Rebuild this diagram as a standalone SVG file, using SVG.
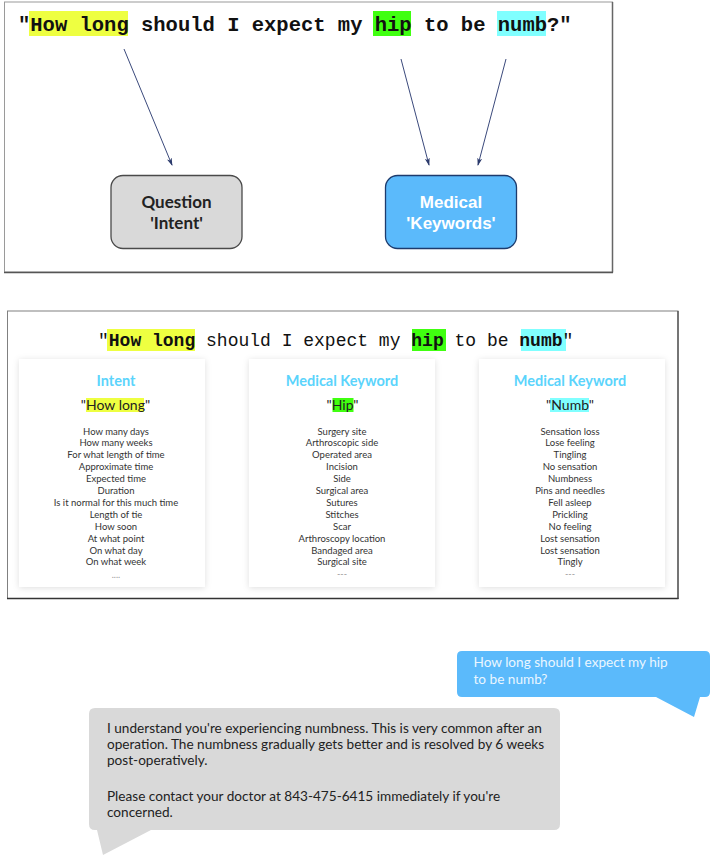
<svg xmlns="http://www.w3.org/2000/svg" width="714" height="859" viewBox="0 0 714 859">
<style>
.mono{font-family:"Liberation Mono","Courier New",monospace;fill:#111}
.box{font-family:Lato,"Liberation Sans",sans-serif;font-weight:bold;font-size:17px;text-anchor:middle}
.head{font-family:Lato,"Open Sans",sans-serif;font-weight:bold;font-size:14.5px;fill:#5bd4fc;text-anchor:middle}
.kw{font-family:Lato,"Open Sans",sans-serif;font-size:14px;fill:#222;text-anchor:middle}
.item{font-family:Lato,"Open Sans",sans-serif;font-size:9.5px;fill:#333;text-anchor:middle}
.dots{font-family:Lato,"Open Sans",sans-serif;font-size:9px;fill:#999;text-anchor:middle}
.chat{font-family:Lato,"Open Sans",sans-serif;font-size:13.6px}
.card{fill:#fff;filter:url(#sh)}
.conn{stroke:#3b4a7c;stroke-width:1;fill:none;marker-end:url(#ah)}
</style>
<defs>
<filter id="sh" x="-10%" y="-10%" width="120%" height="120%">
<feDropShadow dx="0" dy="1" stdDeviation="3" flood-color="#000" flood-opacity="0.13"/>
</filter>
<marker id="ah" markerWidth="8" markerHeight="6" refX="7" refY="3" orient="auto" markerUnits="userSpaceOnUse">
<path d="M0,0.5 L8,3 L0,5.5 L2,3 z" fill="#2b3a6c"/>
</marker>
</defs>
<rect width="714" height="859" fill="#fff"/>

<g id="panel1">
<rect x="4.5" y="2" width="608" height="270" fill="#fff" stroke="#9a9a9a" stroke-width="1"/>
<line x1="612.5" y1="2" x2="612.5" y2="272.5" stroke="#666" stroke-width="1.5"/>
<line x1="4" y1="272.5" x2="613" y2="272.5" stroke="#555" stroke-width="1.5"/>
<g id="question1">
<rect x="29" y="11" width="99" height="25" fill="#eeff41"/>
<rect x="373" y="11" width="38" height="25" fill="#40ff10"/>
<rect x="497" y="11" width="49" height="25" fill="#80ffff"/>
<text class="mono" x="18" y="30.5" font-size="20.5" font-weight="bold">"How long should I expect my hip to be numb?"</text>
</g>
<g id="intent">
<rect x="111" y="175.5" width="131" height="73" rx="12" fill="#d9d9d9" stroke="#4a4a4a" stroke-width="1.3"/>
<text class="box" x="176.5" y="208" fill="#222">Question</text>
<text class="box" x="176.5" y="229" fill="#222">'Intent'</text>
</g>
<g id="keywords">
<rect x="385.5" y="175.5" width="131" height="73" rx="12" fill="#5bbafb" stroke="#1d3b6d" stroke-width="1.3"/>
<text class="box" x="451" y="208" fill="#fff" style="font-family:'Liberation Sans',Arial,sans-serif">Medical</text>
<text class="box" x="451" y="229" fill="#fff" style="font-family:'Liberation Sans',Arial,sans-serif">'Keywords'</text>
</g>
<g id="connectors">
<line class="conn" x1="124" y1="49" x2="172" y2="165"/>
<line class="conn" x1="401" y1="59" x2="429" y2="165"/>
<line class="conn" x1="506" y1="59" x2="478" y2="165"/>
</g>
</g>

<g id="panel2">
<rect x="7.5" y="311" width="670.5" height="287.5" fill="#fff" stroke="#808080" stroke-width="1"/>
<line x1="7" y1="598.5" x2="678.5" y2="598.5" stroke="#333" stroke-width="1.5"/>
<line x1="678" y1="311" x2="678" y2="599" stroke="#444" stroke-width="1.2"/>
<g id="question2">
<rect x="107" y="329" width="88" height="22" fill="#eeff41"/>
<rect x="412" y="329" width="34" height="22" fill="#40ff10"/>
<rect x="521" y="329" width="45" height="22" fill="#80ffff"/>
<text class="mono" x="98" y="346" font-size="18">"<tspan font-weight="bold">How long</tspan> should I expect my <tspan font-weight="bold">hip</tspan> to be <tspan font-weight="bold">numb</tspan>"</text>
</g>
<g id="card-intent">
<rect class="card" x="19" y="359" width="186" height="228"/>
<text class="head" x="116" y="386">Intent</text>
<rect x="86" y="398" width="58" height="14" fill="#eeff41"/>
<text class="kw" x="115.5" y="409.5">"How long"</text>
<text class="item" x="116" y="434.5">How many days</text>
<text class="item" x="116" y="446.4">How many weeks</text>
<text class="item" x="116" y="458.3">For what length of time</text>
<text class="item" x="116" y="470.2">Approximate time</text>
<text class="item" x="116" y="482.1">Expected time</text>
<text class="item" x="116" y="494">Duration</text>
<text class="item" x="116" y="505.9">Is it normal for this much time</text>
<text class="item" x="116" y="517.8">Length of tie</text>
<text class="item" x="116" y="529.7">How soon</text>
<text class="item" x="116" y="541.6">At what point</text>
<text class="item" x="116" y="553.5">On what day</text>
<text class="item" x="116" y="565.4">On what week</text>
<text class="dots" x="116" y="577.5">....</text>
</g>
<g id="card-hip">
<rect class="card" x="249" y="359" width="186" height="228"/>
<text class="head" x="342" y="386">Medical Keyword</text>
<rect x="332.5" y="398" width="21" height="14" fill="#40ff10"/>
<text class="kw" x="342.5" y="409.5">"Hip"</text>
<text class="item" x="342" y="434.5">Surgery site</text>
<text class="item" x="342" y="446.4">Arthroscopic side</text>
<text class="item" x="342" y="458.3">Operated area</text>
<text class="item" x="342" y="470.2">Incision</text>
<text class="item" x="342" y="482.1">Side</text>
<text class="item" x="342" y="494">Surgical area</text>
<text class="item" x="342" y="505.9">Sutures</text>
<text class="item" x="342" y="517.8">Stitches</text>
<text class="item" x="342" y="529.7">Scar</text>
<text class="item" x="342" y="541.6">Arthroscopy location</text>
<text class="item" x="342" y="553.5">Bandaged area</text>
<text class="item" x="342" y="565.4">Surgical site</text>
<text class="dots" x="342" y="576.5">---</text>
</g>
<g id="card-numb">
<rect class="card" x="479" y="359" width="186" height="228"/>
<text class="head" x="570" y="386">Medical Keyword</text>
<rect x="550" y="398" width="39" height="14" fill="#80ffff"/>
<text class="kw" x="570" y="409.5">"Numb"</text>
<text class="item" x="570" y="434.5">Sensation loss</text>
<text class="item" x="570" y="446.4">Lose feeling</text>
<text class="item" x="570" y="458.3">Tingling</text>
<text class="item" x="570" y="470.2">No sensation</text>
<text class="item" x="570" y="482.1">Numbness</text>
<text class="item" x="570" y="494">Pins and needles</text>
<text class="item" x="570" y="505.9">Fell asleep</text>
<text class="item" x="570" y="517.8">Prickling</text>
<text class="item" x="570" y="529.7">No feeling</text>
<text class="item" x="570" y="541.6">Lost sensation</text>
<text class="item" x="570" y="553.5">Lost sensation</text>
<text class="item" x="570" y="565.4">Tingly</text>
<text class="dots" x="570" y="576.5">---</text>
</g>
</g>

<g id="chat">
<g id="user-bubble">
<path d="M462,651 H705 Q710,651 710,656 V692 Q710,697 705,697 H700 L694,717 L656,697 H462 Q457,697 457,692 V656 Q457,651 462,651 Z" fill="#5bbafb"/>
<text class="chat" x="473.5" y="667" fill="#eaf6ff">How long should I expect my hip</text>
<text class="chat" x="473.5" y="684" fill="#eaf6ff">to be numb?</text>
</g>
<g id="bot-bubble">
<path d="M95,708 H554 Q560,708 560,714 V824 Q560,830 554,830 H151 L103,855 L97,830 H95 Q89,830 89,824 V714 Q89,708 95,708 Z" fill="#d9d9d9"/>
<text class="chat" x="107" y="733" fill="#222">I understand you're experiencing numbness. This is very common after an</text>
<text class="chat" x="107" y="749" fill="#222">operation. The numbness gradually gets better and is resolved by 6 weeks</text>
<text class="chat" x="107" y="765" fill="#222">post-operatively.</text>
<text class="chat" x="107" y="801" fill="#222">Please contact your doctor at 843-475-6415 immediately if you're</text>
<text class="chat" x="107" y="817" fill="#222">concerned.</text>
</g>
</g>
</svg>
